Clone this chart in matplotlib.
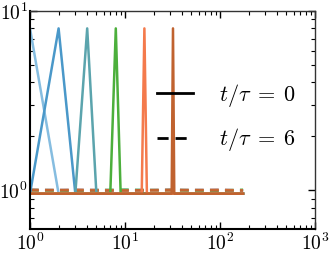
import numpy as np
import matplotlib
matplotlib.use('Agg')
import matplotlib.pyplot as plt
from matplotlib.lines import Line2D
from matplotlib.ticker import LogLocator, NullFormatter

plt.rcParams['mathtext.fontset'] = 'cm'
plt.rcParams['font.family'] = 'serif'
plt.rcParams['font.serif'] = ['cmr10', 'DejaVu Serif']
plt.rcParams['axes.formatter.use_mathtext'] = True

colors = ['#86bde0', '#4a98c9', '#5ba4ad', '#4caf3c', '#f47a4c', '#c0622f']

# t/tau = 0 : one spike per series
t0_x = [[1, 2, 175],
        [1, 2, 3, 175],
        [1, 3, 4, 5, 175],
        [1, 7, 8, 9, 175],
        [1, 15, 16, 17, 175],
        [1, 31, 32, 33, 175]]
t0_y = [[8.0, 0.96, 0.96],
        [0.96, 8.0, 0.96, 0.96],
        [0.96, 0.96, 8.0, 0.96, 0.96],
        [0.96, 0.96, 8.0, 0.96, 0.96],
        [0.96, 0.96, 8.0, 0.96, 0.96],
        [0.96, 0.96, 8.0, 0.96, 0.96]]

# t/tau = 6 : nearly flat
t6_x = [1, 3, 10, 30, 100, 175]
t6_y = [[1.00, 1.00, 1.01, 1.00, 1.00, 1.00],
        [1.00, 1.01, 1.00, 1.00, 1.01, 1.00],
        [1.01, 1.00, 1.00, 1.01, 1.00, 1.00],
        [1.00, 1.00, 1.01, 1.00, 1.00, 1.01],
        [1.00, 1.01, 1.00, 1.00, 1.01, 1.00],
        [1.01, 1.00, 1.00, 1.01, 1.00, 1.00]]

fig = plt.figure(figsize=(3.29, 2.56), dpi=100)
ax = fig.add_axes([30/329, 1 - 229/256, 285/329, 218/256])

for i, c in enumerate(colors):
    ax.plot(t6_x, t6_y[i], color=c, lw=1.8, ls='--', dashes=(3.5, 2.5), alpha=0.9)
for i, c in enumerate(colors):
    ax.plot(t0_x[i], t0_y[i], color=c, lw=1.8)

ax.set_xscale('log')
ax.set_yscale('log')
ax.set_xlim(1, 1000)
ax.set_ylim(0.61, 10)

ax.set_xticks([1, 10, 100, 1000])
ax.set_xticklabels([r'$10^{0}$', r'$10^{1}$', r'$10^{2}$', r'$10^{3}$'])
ax.set_yticks([1, 10])
ax.set_yticklabels([r'$10^{0}$', r'$10^{1}$'])
ax.xaxis.set_minor_locator(LogLocator(base=10, subs=np.arange(2, 10), numticks=20))
ax.yaxis.set_minor_locator(LogLocator(base=10, subs=np.arange(2, 10), numticks=20))
ax.xaxis.set_minor_formatter(NullFormatter())
ax.yaxis.set_minor_formatter(NullFormatter())
ax.tick_params(which='both', direction='in', top=True, right=True, labelsize=14)
ax.tick_params(which='major', length=5, width=1, pad=3)
ax.tick_params(axis='y', which='major', pad=1.5)
ax.tick_params(which='minor', length=3, width=0.8)

for s in ['left', 'bottom']:
    ax.spines[s].set_linewidth(1.5)
for s in ['top', 'right']:
    ax.spines[s].set_linewidth(1.0)
    ax.spines[s].set_color('#333333')

handles = [Line2D([], [], color='k', lw=2),
           Line2D([], [], color='k', lw=2, ls='--', dashes=(4, 2.5))]
ax.legend(handles, [r'$t/\tau\;=\;0$', r'$t/\tau\;=\;6$'], frameon=False,
          loc='center left', bbox_to_anchor=(0.446, 0.511), borderpad=0,
          borderaxespad=0, handlelength=1.6, handletextpad=1.2,
          labelspacing=0.8, fontsize=16)

fig.savefig('out.png', dpi=100)
